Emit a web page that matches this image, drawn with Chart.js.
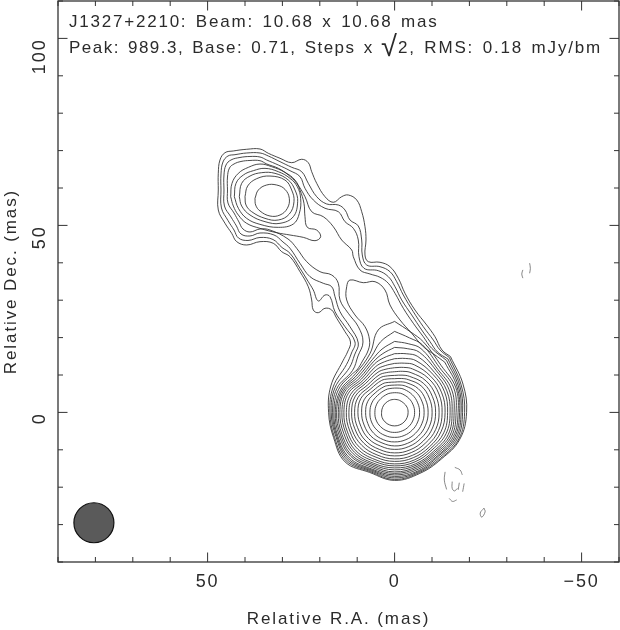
<!DOCTYPE html>
<html>
<head>
<meta charset="utf-8">
<script src="https://cdn.jsdelivr.net/npm/chart.js@4/dist/chart.umd.min.js"></script>
<style>
  html, body { margin: 0; padding: 0; background: #fff; }
  canvas { display: block; }
</style>
</head>
<body>
<canvas id="map" width="620" height="630"></canvas>
<script>
// Axis values (mas)
const raTickLabels = [50, 0, -50];
const decTickLabels = [100, 50, 0];
const headerLine1 = 'J1327+2210: Beam: 10.68 x 10.68 mas';
const headerLine2a = 'Peak: 989.3, Base: 0.71, Steps x ';
const headerLine2b = '2, RMS: 0.18 mJy/bm';

const beamRa = [80.4];
const beamDec = [-29.5];

// Position of each radius below, degrees clockwise on the page from north
const coreAngles = [0,11.25,22.5,45,67.5,90,112.5,135,157.5,180,202.5,225,247.5,270,292.5,315,337.5,348.75];

// Core contours, highest level first: radius (mas) at each of coreAngles
const coreRadii = [
  [3.48,3.48,3.48,3.48,3.61,3.61,3.61,3.61,3.61,3.61,3.61,3.61,3.61,3.48,3.48,3.48,3.48,3.48],
  [5.27,5.32,5.35,5.35,5.35,5.35,5.35,5.35,5.35,5.35,5.35,5.35,5.35,5.27,5.27,5.21,5.27,5.27],
  [6.50,6.60,6.68,6.68,6.68,6.68,6.68,6.68,6.68,6.68,6.68,6.68,6.68,6.60,6.60,6.42,6.50,6.50],
  [7.30,7.46,7.62,7.89,7.89,7.89,7.89,7.89,7.89,7.89,7.89,7.89,7.75,7.75,7.75,7.35,7.43,7.35],
  [8.10,8.34,8.56,8.96,8.96,8.96,8.96,8.96,8.96,8.96,8.82,8.96,8.82,8.82,8.82,8.16,8.29,8.18],
  [9.01,9.25,9.49,10.03,10.03,10.03,10.03,9.89,9.89,9.89,9.76,9.89,9.76,9.81,9.76,8.96,9.22,9.12],
  [9.89,10.16,10.43,10.96,10.96,10.96,10.96,10.83,10.83,10.83,10.70,10.83,10.70,10.70,10.56,9.63,10.03,9.95],
  [10.88,11.20,11.50,11.90,11.90,11.90,11.90,11.63,11.63,11.63,11.50,11.63,11.50,11.50,11.36,10.29,10.83,10.86],
  [11.95,12.27,12.57,12.83,12.83,12.70,12.70,12.43,12.43,12.43,12.30,12.43,12.30,12.22,12.03,10.96,11.63,11.79],
  [13.10,13.42,13.77,13.64,13.64,13.50,13.45,13.10,13.10,13.10,12.97,13.24,12.97,12.91,12.70,11.50,12.43,12.76],
  [14.36,14.71,14.97,14.44,14.44,14.17,14.23,13.64,13.77,13.77,13.64,13.90,13.64,13.56,13.37,12.03,13.24,13.80],
  [15.70,15.99,16.18,15.11,15.11,14.84,14.89,14.17,14.30,14.30,14.17,14.57,14.17,14.09,13.90,12.57,14.04,14.87],
  [17.38,17.38,17.38,15.78,15.78,15.37,15.51,14.71,14.84,14.84,14.71,15.11,14.71,14.63,14.44,13.10,14.71,16.04],
  [18.98,18.72,18.45,16.31,16.44,15.91,16.04,15.11,15.24,15.37,15.11,15.64,15.24,15.05,14.84,13.64,15.37,17.25],
  [21.66,20.32,19.52,16.98,17.11,16.44,16.52,15.51,15.64,15.91,15.51,16.18,15.64,15.51,15.24,14.17,16.18,19.25],
  [24.33,21.93,20.32,17.65,17.65,16.98,16.98,15.91,16.04,16.31,15.91,16.58,16.04,15.86,15.64,14.71,17.11,22.46]
];

// Lower half of the low contours: radius (mas) from 45 deg round to 315 deg
const arcAngles = [45,67.5,90,112.5,135,157.5,180,202.5,225,247.5,270,292.5,315];
const arcRadii4 = [18.98,18.05,17.38,17.38,16.31,16.44,16.71,16.31,17.11,16.44,16.23,16.18,15.24];
const arcRadii3 = [19.65,18.45,17.78,17.78,16.58,16.84,17.11,16.58,17.51,16.71,16.58,16.71,15.88];
const arcRadii2 = [20.19,18.85,18.18,18.18,16.98,17.11,17.51,16.84,17.91,16.98,16.95,17.25,17.01];
const arcRadii1 = [20.72,19.25,18.72,18.58,17.38,17.38,17.91,17.11,18.32,17.38,17.30,17.78,18.16];
const arcRadii0 = [21.12,19.79,19.25,18.85,17.65,17.65,18.18,17.38,18.72,17.65,17.65,18.45,19.52];

// Rest of those contours [ra, dec], up the south side of the jet, round the lobe and back
const jet0 = [[12.59,16.15],[11.79,18.82],[13.26,21.58],[15.48,25.16],[16.82,27.38],[18.61,27.84],[20.40,26.66],[21.74,27.38],[22.17,30.06],[23.08,33.61],[25.30,37.62],[27.97,41.63],[30.19,42.97],[32.44,45.22],[35.99,45.65],[39.55,44.76],[42.22,45.65],[43.56,47.89],[45.35,50.57],[47.14,54.12],[47.14,59.47],[47.14,63.94],[46.69,67.49],[45.35,69.44],[43.13,69.90],[39.55,70.35],[35.99,70.43],[33.77,69.28],[30.64,67.95],[27.52,66.77],[24.84,67.68],[23.08,66.77],[22.17,64.36],[20.83,61.26],[18.61,57.68],[16.39,56.18],[14.15,57.68],[12.38,58.13],[10.13,56.80],[8.80,53.67],[7.92,49.66],[7.65,46.10],[7.92,42.09],[7.03,40.30],[3.90,40.14],[1.23,38.96],[-0.99,35.86],[-2.78,31.85],[-5.45,27.38],[-8.58,23.37],[-10.80,20.24],[-12.67,16.69]];
const jet1 = [[11.52,15.88],[10.59,18.82],[13.26,22.92],[15.94,26.93],[17.27,30.94],[18.61,31.39],[20.40,29.79],[21.74,32.73],[23.08,34.95],[25.30,38.53],[27.97,42.54],[30.11,44.09],[32.52,46.23],[35.99,46.77],[39.20,45.97],[41.74,46.63],[42.94,48.77],[44.55,51.31],[46.29,54.66],[46.42,59.47],[46.42,63.75],[45.89,66.96],[44.55,68.56],[42.68,68.91],[39.55,69.36],[35.99,69.36],[33.77,68.56],[30.64,67.04],[27.52,65.54],[24.84,64.36],[23.08,61.26],[20.83,57.68],[18.16,55.73],[15.05,55.46],[13.26,54.12],[11.93,51.45],[9.71,49.84],[8.80,46.10],[8.64,42.09],[7.46,39.41],[3.90,38.96],[1.23,37.62],[-0.56,34.95],[-2.33,31.39],[-5.00,26.93],[-7.67,22.92],[-10.35,19.36],[-12.14,16.69]];
const jet2 = [[10.72,15.35],[9.71,18.56],[11.93,22.92],[14.60,26.93],[15.94,30.94],[16.82,33.61],[19.07,34.52],[22.62,36.29],[25.30,39.87],[27.97,43.88],[29.84,45.56],[32.25,47.44],[35.99,47.97],[38.67,47.17],[41.07,47.70],[42.28,49.84],[43.75,52.25],[45.49,55.19],[45.62,59.47],[45.62,63.48],[45.08,66.15],[43.75,67.49],[41.34,68.16],[38.67,68.43],[35.99,68.29],[34.20,67.49],[31.10,66.15],[27.97,64.63],[25.30,63.03],[23.96,59.92],[21.74,56.80],[18.61,54.58],[15.05,53.67],[13.26,50.99],[11.04,49.23],[9.71,46.10],[9.52,41.63],[8.18,38.53],[4.36,37.89],[1.68,36.29],[-0.11,33.61],[-1.90,30.06],[-4.57,26.05],[-7.25,22.03],[-9.47,18.91],[-11.47,16.15]];
const jet3 = [[9.79,15.08],[8.45,18.82],[9.71,22.92],[12.38,26.50],[14.60,30.06],[15.05,34.52],[16.82,36.74],[19.95,37.62],[23.50,40.30],[26.18,43.88],[28.50,46.37],[33.32,48.77],[35.99,49.04],[38.67,48.24],[40.54,49.04],[41.61,50.91],[42.94,53.32],[44.55,55.99],[44.68,59.47],[44.68,62.94],[44.15,65.35],[42.94,66.42],[41.07,67.09],[38.67,67.36],[35.99,67.30],[34.20,66.42],[31.10,65.27],[28.42,63.48],[26.18,61.26],[23.96,57.68],[22.17,53.67],[19.07,52.33],[16.39,49.66],[14.15,46.10],[11.47,43.43],[11.04,41.63],[9.25,38.08],[6.58,37.01],[3.90,36.13],[1.68,34.52],[-0.11,31.85],[-2.33,27.84],[-5.00,23.83],[-7.67,20.24],[-9.92,17.14]];
const finger4 = [[10.05,11.34],[8.58,13.74],[7.03,16.69],[6.71,19.36],[7.92,22.92],[10.59,26.05],[12.81,30.06],[12.81,33.61],[11.93,35.40],[8.37,34.68],[5.24,34.95],[2.57,32.73],[1.23,28.72],[-1.44,24.71],[-4.57,21.15],[-7.67,17.57],[-10.80,15.35]];

// Closed contours round the lobe [ra, dec]
const lobeA = [[37.33,57.23],[36.44,59.46],[34.21,60.80],[31.53,60.80],[29.31,59.64],[28.15,57.23],[28.68,54.56],[30.64,52.78],[33.32,52.51],[35.99,53.85],[37.15,55.45]];
const lobeB = [[40.00,57.68],[39.29,60.53],[36.88,62.49],[33.32,63.20],[29.31,62.13],[27.52,59.46],[26.90,56.34],[28.15,53.04],[31.09,51.44],[34.65,51.88],[38.22,53.67],[39.73,55.45]];
const lobeC = [[41.52,57.68],[40.89,61.24],[38.66,63.20],[35.54,64.10],[31.98,63.92],[28.41,62.13],[26.63,59.46],[25.92,56.34],[27.08,52.33],[30.64,50.55],[34.65,51.00],[38.66,52.78],[40.89,55.18]];
const lobeD = [[42.85,57.68],[42.41,61.24],[40.45,63.47],[37.77,64.63],[34.65,65.25],[31.09,64.36],[27.97,62.58],[26.01,60.35],[25.12,57.23],[25.47,53.22],[27.08,50.37],[31.09,49.48],[36.00,50.28],[39.56,51.88],[41.76,54.56]];
const lobeE = [[43.83,57.68],[43.48,61.24],[41.78,63.92],[39.11,65.52],[35.99,66.41],[32.87,65.70],[29.31,64.18],[26.63,62.13],[25.30,59.46],[24.23,55.90],[23.96,52.33],[23.33,49.48],[20.84,48.76],[19.77,46.98],[21.28,45.91],[24.40,46.80],[27.97,47.43],[31.53,48.05],[35.99,49.21],[39.56,50.55],[41.78,52.78],[43.12,55.18]];

// Faint negative pieces [ra, dec]
const negArcs = [
  [[-13.5,-15.9],[-13.3,-18.1],[-13.9,-20.6]],
  [[-16.1,-14.7],[-17.5,-15.4],[-18.1,-16.7]],
  [[-14.6,-23.0],[-15.5,-23.8],[-16.6,-23.4]],
  [[-15.4,-18.5],[-15.4,-20.3],[-16.0,-21.0],[-16.8,-20.3]],
  [[-17.3,-18.8],[-17.0,-20.7]],
  [[-18.6,-19.0],[-18.2,-21.2]],
  [[-23.9,-25.6],[-24.2,-26.6],[-23.3,-28.0],[-22.9,-26.9],[-23.9,-25.6]],
  [[-36.1,39.9],[-36.3,38.5],[-36.1,37.2]],
  [[-34.3,38.1],[-34.0,37.0],[-34.3,35.9]]
];

const INK = '#2b2b2b';
const FONT = '"Liberation Sans", sans-serif';

function fromPairs(pairs) {
  return pairs.map(p => ({ x: p[0], y: p[1] }));
}

function radial(r, angles) {
  return r.map((v, i) => {
    const a = angles[i] * Math.PI / 180;
    return { x: -v * Math.sin(a), y: v * Math.cos(a) };
  });
}

function closed(points) {
  return points.concat([points[0]]);
}

function contour(points, width, color) {
  return {
    data: points,
    showLine: true,
    fill: false,
    tension: 0.4,
    pointRadius: 0,
    borderColor: color || INK,
    borderWidth: width || 0.85
  };
}

const datasets = [];
coreRadii.forEach(r => datasets.push(contour(closed(radial(r, coreAngles)))));
[[arcRadii4, finger4], [arcRadii3, jet3], [arcRadii2, jet2], [arcRadii1, jet1], [arcRadii0, jet0]].forEach(c => {
  datasets.push(contour(closed(radial(c[0], arcAngles).concat(fromPairs(c[1])))));
});
[lobeA, lobeB, lobeC, lobeD, lobeE].forEach(l => datasets.push(contour(closed(fromPairs(l)))));
negArcs.forEach(n => datasets.push(contour(fromPairs(n), 0.7, '#555')));
datasets.push({
  data: beamRa.map((ra, i) => ({ x: ra, y: beamDec[i] })),
  showLine: false,
  pointRadius: 20,
  pointBackgroundColor: '#5a5a5a',
  pointBorderColor: '#111',
  pointBorderWidth: 1.2
});

const framePlugin = {
  id: 'frame',
  beforeDraw(chart) {
    chart.ctx.letterSpacing = '1.9px';
  },
  afterDraw(chart) {
    const ctx = chart.ctx;
    const a = chart.chartArea;
    const xs = chart.scales.x;
    const ys = chart.scales.y;
    ctx.save();
    ctx.strokeStyle = '#333';
    ctx.lineWidth = 1.3;
    ctx.strokeRect(a.left, a.top, a.right - a.left, a.bottom - a.top);

    ctx.lineWidth = 1;
    ctx.beginPath();
    xs.ticks.forEach(t => {
      const px = xs.getPixelForValue(t.value);
      const len = t.value % 50 === 0 ? 9.5 : 5;
      ctx.moveTo(px, a.bottom); ctx.lineTo(px, a.bottom - len);
      ctx.moveTo(px, a.top); ctx.lineTo(px, a.top + len);
    });
    ys.ticks.forEach(t => {
      const py = ys.getPixelForValue(t.value);
      const len = t.value % 50 === 0 ? 9.5 : 5;
      ctx.moveTo(a.left, py); ctx.lineTo(a.left + len, py);
      ctx.moveTo(a.right, py); ctx.lineTo(a.right - len, py);
    });
    ctx.stroke();

    ctx.fillStyle = '#2b2b2b';
    ctx.textBaseline = 'alphabetic';
    ctx.textAlign = 'left';
    ctx.font = '17px ' + FONT;
    ctx.wordSpacing = '2px';
    ctx.letterSpacing = '1.78px';
    ctx.fillText(headerLine1, 69, 27);
    ctx.letterSpacing = '1.47px';
    ctx.fillText(headerLine2a, 69, 53);
    ctx.font = '29px ' + FONT;
    ctx.letterSpacing = '0px';
    ctx.fillText('\u221A', 381, 56);
    ctx.font = '17px ' + FONT;
    ctx.letterSpacing = '1.82px';
    ctx.fillText(headerLine2b, 398, 53);
    ctx.restore();
  }
};

function noPadding(s) {
  s.paddingTop = 0;
  s.paddingBottom = 0;
  s.paddingLeft = 0;
  s.paddingRight = 0;
}

new Chart(document.getElementById('map').getContext('2d'), {
  type: 'scatter',
  data: { datasets: datasets },
  plugins: [framePlugin],
  options: {
    responsive: false,
    animation: false,
    devicePixelRatio: 1,
    layout: { autoPadding: false, padding: { top: 1, right: 1, left: 0, bottom: 0 } },
    plugins: { legend: { display: false }, tooltip: { enabled: false } },
    scales: {
      x: {
        type: 'linear',
        reverse: true,
        min: -60,
        max: 90,
        afterFit(s) { s.height = 68; noPadding(s); },
        grid: { display: false },
        border: { display: false },
        ticks: {
          stepSize: 10,
          maxRotation: 0,
          autoSkip: false,
          color: '#2b2b2b',
          padding: 1,
          font: { family: FONT, size: 18 },
          callback: v => raTickLabels.includes(v) ? String(v).replace('-', '\u2212') : ''
        },
        title: {
          display: true,
          text: 'Relative R.A. (mas)',
          color: '#2b2b2b',
          font: { family: FONT, size: 17 },
          padding: { top: 17, bottom: 0 }
        }
      },
      y: {
        type: 'linear',
        min: -40,
        max: 110,
        afterFit(s) { s.width = 58; noPadding(s); },
        grid: { display: false },
        border: { display: false },
        ticks: {
          stepSize: 10,
          minRotation: 90,
          maxRotation: 90,
          autoSkip: false,
          color: '#2b2b2b',
          padding: 10,
          font: { family: FONT, size: 18 },
          callback: v => decTickLabels.includes(v) ? String(v) : ''
        },
        title: {
          display: true,
          text: 'Relative Dec. (mas)',
          color: '#2b2b2b',
          font: { family: FONT, size: 17 },
          padding: { top: 1, bottom: 0 }
        }
      }
    }
  }
});
</script>
</body>
</html>
